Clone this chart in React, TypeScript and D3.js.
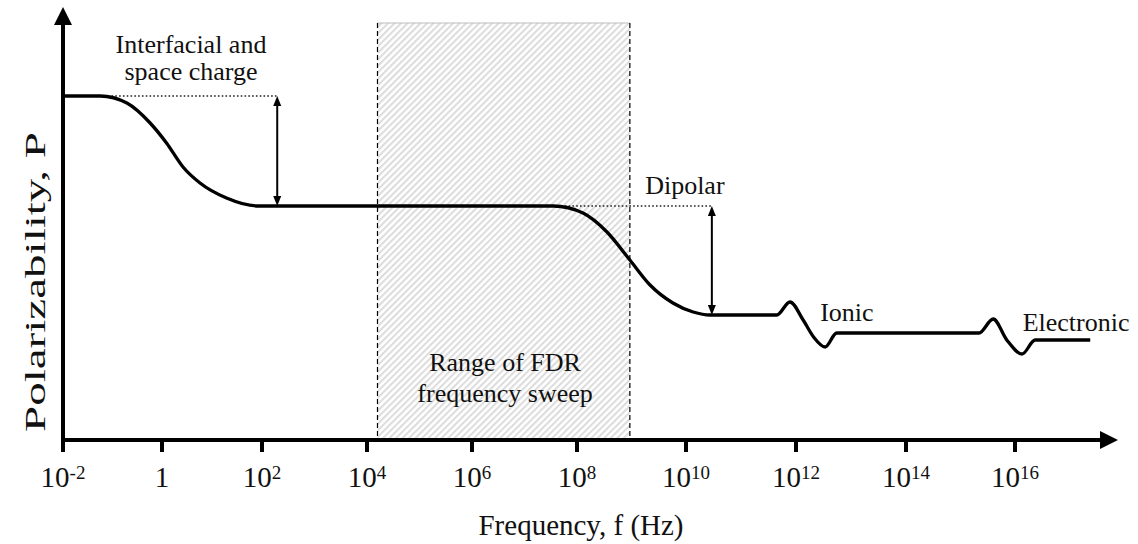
import React from "react";
import * as d3 from "d3";

// ---------- data ----------
const TICK_EXPONENTS = [-2, 0, 2, 4, 6, 8, 10, 12, 14, 16];
const TICK_BASE = ["10", "1", "10", "10", "10", "10", "10", "10", "10", "10"];
const TICK_SUP = ["-2", "", "2", "4", "6", "8", "10", "12", "14", "16"];

// polarizability curve (log10 f, P in arbitrary units)
const LOG_F = [
  -2, -1.25, -0.71, -0.24, 0.09, 0.42, 0.76, 1.29, 1.92,
  7.55, 8.11, 8.55, 8.97, 9.34, 9.76, 10.13, 10.44,
  11.65, 11.89, 12.13, 12.32, 12.53, 12.74,
  15.34, 15.6, 15.85, 16.13, 16.37, 17.38,
];
const POL = [
  3.44, 3.44, 3.37, 3.17, 2.97, 2.73, 2.57, 2.42, 2.34,
  2.34, 2.27, 2.08, 1.8, 1.55, 1.37, 1.28, 1.25,
  1.25, 1.38, 1.2, 1.03, 0.93, 1.07,
  1.07, 1.21, 1.0, 0.86, 1.0, 1.0,
];

// FDR sweep range (log10 f)
const FDR_RANGE = [4.2, 8.97];
const FDR_TOP_P = 4.17;

// step markers: [log f of arrow, P high, P low, log f where dotted line starts]
const STEP_ARROWS = [
  { f: 2.29, hi: 3.44, lo: 2.34, from: -1.25 },
  { f: 10.47, hi: 2.34, lo: 1.25, from: 7.55 },
];

// ---------- layout ----------
const W = 1138;
const H = 544;
const TICK_PX = [63, 162, 262, 367, 472, 577, 686, 796, 906, 1015];
const X_TIP = 17.89;
const Y_TIP = 4.33;
const FONT = "'Liberation Serif', 'Times New Roman', Times, serif";

export default function App() {
  const x = d3.scaleLinear().domain(TICK_EXPONENTS).range(TICK_PX);
  const y = d3.scaleLinear().domain([0, 4.4]).range([440, 0]);

  const idx = d3.range(LOG_F.length);
  const line = d3
    .line<number>()
    .x((i) => x(LOG_F[i]))
    .y((i) => y(POL[i]))
    .curve(d3.curveMonotoneX);

  const x0 = x(TICK_EXPONENTS[0]);
  const y0 = y(0);
  const xTip = x(X_TIP);
  const yTip = y(Y_TIP);

  const smallHead = (px: number, py: number, dir: number) => {
    // dir: -1 = pointing up, 1 = pointing down
    const L = 10, hw = 4;
    return `M${px},${py} L${px - hw},${py - dir * L} L${px + hw},${py - dir * L} Z`;
  };

  return (
    <svg
      width={W}
      height={H}
      style={{ position: "absolute", left: 0, top: 0, background: "#fff" }}
      fontFamily={FONT}
    >
      <defs>
        <pattern
          id="hatch"
          patternUnits="userSpaceOnUse"
          width={4.6}
          height={4.6}
          patternTransform="rotate(45)"
        >
          <rect width={4.6} height={4.6} fill="#ffffff" />
          <line x1={1} y1={0} x2={1} y2={4.6} stroke="#dcdcdc" strokeWidth={2} />
        </pattern>
      </defs>
      <rect x={0} y={0} width={W} height={H} fill="#fff" />

      {/* FDR sweep region */}
      <rect
        x={x(FDR_RANGE[0])}
        y={y(FDR_TOP_P)}
        width={x(FDR_RANGE[1]) - x(FDR_RANGE[0])}
        height={y0 - y(FDR_TOP_P)}
        fill="url(#hatch)"
      />
      <line
        x1={x(FDR_RANGE[0])}
        x2={x(FDR_RANGE[1])}
        y1={y(FDR_TOP_P)}
        y2={y(FDR_TOP_P)}
        stroke="#bdbdbd"
        strokeWidth={1.2}
      />
      {FDR_RANGE.map((f, i) => (
        <line
          key={i}
          x1={x(f)}
          x2={x(f)}
          y1={y(FDR_TOP_P)}
          y2={y0}
          stroke="#000"
          strokeWidth={1.2}
          strokeDasharray="5 3"
        />
      ))}
      <text x={x(6.63)} y={y(0.693)} fontSize={26} textAnchor="middle" fill="#111">
        Range of FDR
      </text>
      <text x={x(6.63)} y={y(0.383)} fontSize={26} textAnchor="middle" fill="#111">
        frequency sweep
      </text>

      {/* step indicators */}
      {STEP_ARROWS.map((s, i) => (
        <g key={i}>
          <line
            x1={x(s.from)}
            x2={x(s.f)}
            y1={y(s.hi)}
            y2={y(s.hi)}
            stroke="#222"
            strokeWidth={1.5}
            strokeDasharray="1.6 2.2"
          />
          <line
            x1={x(s.f)}
            x2={x(s.f)}
            y1={y(s.hi) + 8}
            y2={y(s.lo) - 8}
            stroke="#000"
            strokeWidth={2}
          />
          <path d={smallHead(x(s.f), y(s.hi), -1)} fill="#000" />
          <path d={smallHead(x(s.f), y(s.lo), 1)} fill="#000" />
        </g>
      ))}

      {/* curve */}
      <path d={line(idx) || ""} fill="none" stroke="#000" strokeWidth={3.3} strokeLinejoin="round" />

      {/* axes */}
      <line x1={x0} x2={x0} y1={y0 + 12} y2={yTip + 16} stroke="#000" strokeWidth={4} />
      <path d={`M${x0},${yTip} L${x0 - 9},${yTip + 18} L${x0 + 9},${yTip + 18} Z`} fill="#000" />
      <line x1={x0} x2={xTip - 16} y1={y0} y2={y0} stroke="#000" strokeWidth={4} />
      <path d={`M${xTip},${y0} L${xTip - 18},${y0 - 9} L${xTip - 18},${y0 + 9} Z`} fill="#000" />

      {TICK_EXPONENTS.map((e, i) => (
        <g key={e}>
          <line x1={x(e)} x2={x(e)} y1={y0} y2={y0 + 12} stroke="#000" strokeWidth={4} />
          <text x={x(e)} y={y0 + 47} fontSize={29} textAnchor="middle" fill="#111">
            {TICK_BASE[i]}
            {TICK_SUP[i] ? (
              <tspan fontSize={19} dy={-8}>
                {TICK_SUP[i]}
              </tspan>
            ) : null}
          </text>
        </g>
      ))}

      {/* annotations */}
      <text x={x(0.58)} y={y(3.867)} fontSize={26} textAnchor="middle" fill="#111">
        Interfacial and
      </text>
      <text x={x(0.58)} y={y(3.6)} fontSize={26} textAnchor="middle" fill="#111">
        space charge
      </text>
      <text x={x(9.25)} y={y(2.457)} fontSize={26} fill="#111">
        Dipolar
      </text>
      <text x={x(12.44)} y={y(1.19)} fontSize={26} fill="#111">
        Ionic
      </text>
      <text x={x(16.14)} y={y(1.09)} fontSize={26} fill="#111">
        Electronic
      </text>

      {/* axis titles */}
      <text x={581} y={535} fontSize={29} textAnchor="middle" fill="#111">
        Frequency, f (Hz)
      </text>
      <text
        transform={`translate(45, ${y(1.58)}) rotate(-90)`}
        fontSize={29}
        textAnchor="middle"
        textLength={300}
        lengthAdjust="spacingAndGlyphs"
        fill="#111"
      >
        Polarizability, P
      </text>
    </svg>
  );
}
